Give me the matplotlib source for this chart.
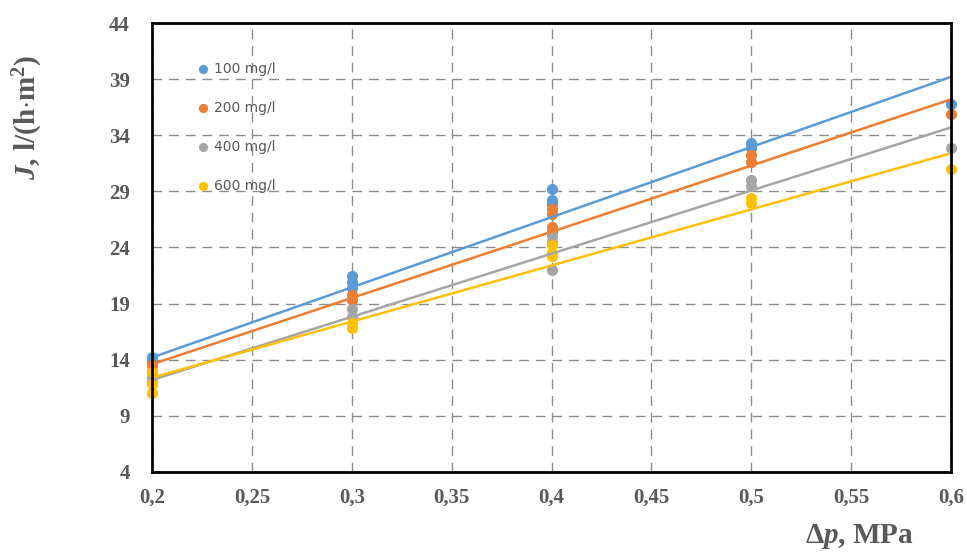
import numpy as np
import matplotlib.pyplot as plt

# ---------------------------------------------------------------------------
# Data
# ---------------------------------------------------------------------------

LABELS = ["100 mg/l", "200 mg/l", "400 mg/l", "600 mg/l"]
COLORS = ["#5B9BD5", "#ED7D31", "#A5A5A5", "#FFC000"]

# measured points: pressure (MPa) and flux
dp_100 = [0.2, 0.2, 0.3, 0.3, 0.3, 0.4, 0.4, 0.4, 0.5, 0.5, 0.6]
J_100 = [14.2, 13.9, 21.5, 20.9, 20.4, 29.2, 28.2, 27.9, 33.3, 32.9, 36.8]

dp_200 = [0.2, 0.2, 0.3, 0.3, 0.4, 0.4, 0.4, 0.4, 0.5, 0.5, 0.6]
J_200 = [13.5, 13.0, 19.8, 19.3, 27.4, 27.0, 25.8, 25.4, 32.2, 31.6, 35.9]

dp_400 = [0.2, 0.2, 0.3, 0.3, 0.4, 0.4, 0.4, 0.5, 0.5, 0.6]
J_400 = [12.5, 12.0, 18.5, 17.8, 25.0, 24.5, 22.0, 30.0, 29.5, 32.9]

dp_600 = [0.2, 0.2, 0.2, 0.3, 0.3, 0.4, 0.4, 0.4, 0.5, 0.5, 0.6]
J_600 = [12.9, 11.8, 11.0, 17.3, 16.8, 24.2, 23.5, 23.2, 28.4, 28.0, 31.0]

# linear trend lines, value at dp = 0.2 and dp = 0.6
trend_x = [0.2, 0.6]
trend_100 = [14.2, 39.2]
trend_200 = [13.6, 37.2]
trend_400 = [12.2, 34.7]
trend_600 = [12.4, 32.4]

X_TICKS = [0.2, 0.25, 0.3, 0.35, 0.4, 0.45, 0.5, 0.55, 0.6]
Y_TICKS = [4, 9, 14, 19, 24, 29, 34, 39, 44]

# ---------------------------------------------------------------------------
# Plot
# ---------------------------------------------------------------------------

plt.rcParams["mathtext.fontset"] = "custom"
plt.rcParams["mathtext.rm"] = "Liberation Serif:bold"
plt.rcParams["mathtext.bf"] = "Liberation Serif:bold"
plt.rcParams["mathtext.it"] = "Liberation Serif:italic:bold"

fig = plt.figure(figsize=(9.67, 5.53), dpi=100)
ax = fig.add_axes([0.1572, 0.1465, 0.8263, 0.8119])

series = [
    (dp_100, J_100, trend_100),
    (dp_200, J_200, trend_200),
    (dp_400, J_400, trend_400),
    (dp_600, J_600, trend_600),
]

for (xs, ys, tr), lab, col in zip(series, LABELS, COLORS):
    ax.plot(xs, ys, "o", color=col, markersize=7, label=lab, zorder=3,
            clip_on=False)

for (xs, ys, tr), col in zip(series, COLORS):
    ax.plot(trend_x, tr, "-", color=col, linewidth=1.8, zorder=4)

ax.set_xlim(0.2, 0.6)
ax.set_ylim(4, 44)
ax.set_xticks(X_TICKS)
ax.set_yticks(Y_TICKS)
ax.set_xticklabels([f"{v:g}".replace(".", ",") for v in X_TICKS])
ax.set_yticklabels([str(v) for v in Y_TICKS])

tick_font = dict(family="Liberation Serif", weight="bold", size=15)
for lbl in ax.get_xticklabels() + ax.get_yticklabels():
    lbl.set_fontproperties(tick_font)
    lbl.set_color("#595959")
ax.tick_params(axis="y", length=0, pad=16)
ax.tick_params(axis="x", length=0, pad=11)

ax.grid(True, color="#8c8c8c", linestyle=(0, (7, 5)), linewidth=1.0)
for sp in ax.spines.values():
    sp.set_linewidth(2.0)
    sp.set_color("black")
    sp.set_zorder(5)

leg = ax.legend(loc="upper left", bbox_to_anchor=(0.04, 0.94), frameon=False,
                handletextpad=0.25, handlelength=1.0, labelspacing=1.8,
                markerscale=0.8, prop=dict(family="DejaVu Sans", size=10))
for t in leg.get_texts():
    t.set_color("#595959")

fig.text(0.029, 0.787, r"$J$, l/(h$\cdot$m$^2$)", rotation=90,
         ha="center", va="center", fontsize=21, fontweight="bold",
         family="Liberation Serif", color="#595959")
fig.text(0.889, 0.03, r"Δ$p$, MPa", ha="center", va="center",
         fontsize=21, fontweight="bold", family="Liberation Serif",
         color="#595959")

plt.savefig("out.png", dpi=100)
